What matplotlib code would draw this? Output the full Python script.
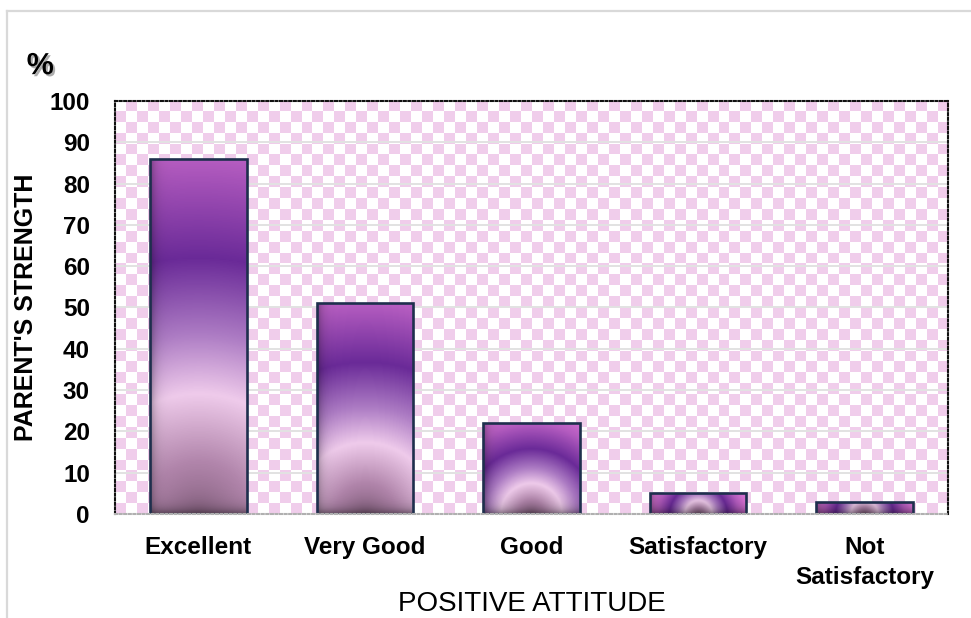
import numpy as np
import matplotlib.pyplot as plt
import matplotlib.patheffects as pe
from matplotlib.colors import LinearSegmentedColormap
from matplotlib.lines import Line2D

plt.rcParams["font.family"] = ["Liberation Sans", "DejaVu Sans"]

categories = ["Excellent", "Very Good", "Good", "Satisfactory", "Not\nSatisfactory"]
values = [86, 51, 22, 5, 3]
yticks = [0, 10, 20, 30, 40, 50, 60, 70, 80, 90, 100]

fig = plt.figure(figsize=(9.71, 6.18), dpi=100)
ax = fig.add_axes([0.1184, 0.1683, 0.8579, 0.6683])

x = np.arange(len(categories))
ax.set_xlim(-0.5, len(categories) - 0.5)
ax.set_ylim(0, 100)

# checkerboard background
nx, ny = 76, 38
ii, jj = np.meshgrid(np.arange(nx), np.arange(ny))
chk = ((ii + jj) % 2).astype(float)
pink = np.array([0.945, 0.806, 0.925])
white = np.array([1.0, 1.0, 1.0])
bg = chk[..., None] * pink + (1 - chk[..., None]) * white
ax.imshow(bg, extent=[0, 1, 0, 1], transform=ax.transAxes, aspect="auto",
          interpolation="nearest", zorder=0)

# gridlines
for t in yticks[1:-1]:
    ax.axhline(t, color="#e2e2e2", lw=1.4, zorder=1)

# bar gradient
cmap = LinearSegmentedColormap.from_list("bargrad", [
    (0.0, "#8a6584"),
    (0.12, "#b185ab"),
    (0.28, "#efcbeb"),
    (0.42, "#ad7cc4"),
    (0.60, "#6a2a98"),
    (0.83, "#b45cc0"),
    (1.0, "#d872d4"),
])

bars = ax.bar(x, values, width=0.58, color="none", edgecolor="#1e2f4d",
              linewidth=1.9, zorder=4)

sx = ax.transData.transform((1, 0))[0] - ax.transData.transform((0, 0))[0]
sy = ax.transData.transform((0, 1))[1] - ax.transData.transform((0, 0))[1]

for b, v in zip(bars, values):
    x0 = b.get_x()
    w = b.get_width()
    wpx = w * sx
    hpx = v * sy
    nxp = max(int(wpx), 2)
    nyp = max(int(hpx), 2)
    px = np.linspace(-wpx / 2, wpx / 2, nxp)
    py = np.linspace(hpx, 0, nyp)
    PX, PY = np.meshgrid(px, py)
    rad = max(hpx, 40)
    r = np.sqrt(PX ** 2 + PY ** 2) / rad
    rgb = cmap(np.clip(r / 1.2, 0, 1))[..., :3]
    # darker left edge and bottom edge
    dl = PX + wpx / 2
    shade = 1 - 0.35 * np.exp(-dl / 5.0)
    shade = shade * (1 - 0.45 * np.exp(-PY / 6.0))
    rgb = rgb * shade[..., None]
    im = ax.imshow(rgb, extent=[x0, x0 + w, 0, v], aspect="auto",
                   interpolation="bilinear", zorder=3)
    im.set_clip_path(b)

# spines
for s in ["top", "left", "right"]:
    ax.spines[s].set_linestyle((0, (1, 1.2)))
    ax.spines[s].set_linewidth(1.5)
    ax.spines[s].set_color("#111111")
ax.spines["bottom"].set_linestyle((0, (1, 1.2)))
ax.spines["bottom"].set_linewidth(1.5)
ax.spines["bottom"].set_color("#b0b0b0")
for s in ax.spines.values():
    s.set_zorder(6)

ax.set_yticks(yticks)
ax.set_yticklabels([str(t) for t in yticks], fontsize=17.5, fontweight="bold")
ax.set_xticks(x)
ax.set_xticklabels(categories, fontsize=17.5, fontweight="bold", linespacing=1.4)
ax.tick_params(axis="y", length=0, pad=18)
ax.tick_params(axis="x", length=0, pad=16)

ax.set_xlabel("POSITIVE ATTITUDE", fontsize=20, labelpad=1)
ax.set_ylabel("PARENT'S STRENGTH", fontsize=18, fontweight="bold", labelpad=8)

fig.text(0.0275, 0.88, "%", fontsize=22, fontweight="bold", color="black",
         path_effects=[pe.withSimplePatchShadow(offset=(1.5, -1.5),
                                                shadow_rgbFace="#777777", alpha=0.6)])

# outer frame
fig.add_artist(Line2D([7 / 971, 7 / 971], [0, 1 - 11 / 618], color="#d9d9d9", lw=1.6))
fig.add_artist(Line2D([7 / 971, 1], [1 - 11 / 618, 1 - 11 / 618], color="#d9d9d9", lw=1.6))

plt.savefig("out.png", dpi=100)
